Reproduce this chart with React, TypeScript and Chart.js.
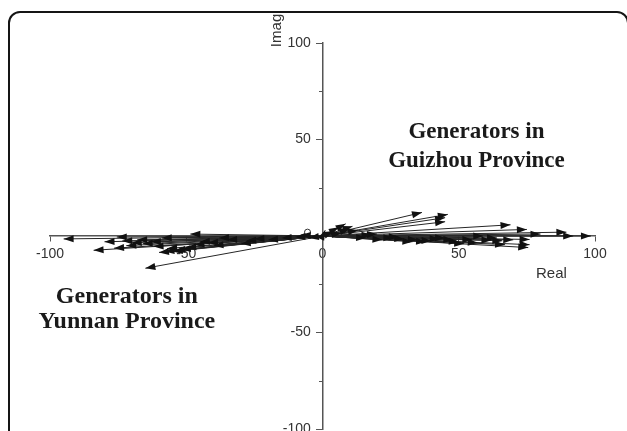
import React, { useEffect, useRef } from 'react';
import { Chart, registerables } from 'chart.js';

Chart.register(...registerables);

// Phasor end points (Real, Imag) — Guizhou generators (right side)
const guizhouReal = [36.5, 46, 45, 45, 69, 75, 80, 89.5, 92, 98.5, 59, 76, 67, 76, 75.5, 66, 8.5, 6, 11, 4, 13, 20, 26, 30, 35, 40, 45, 50, 55, 62, 16, 1, 52, 48, 38, 10, 7, 22, 28, 43, 57, 64, 70, 33, 18];
const guizhouImag = [12.2, 11.2, 9.5, 7.4, 5.8, 3.4, 1, 2, 0, 0, 0, -1.8, -4.5, -4.5, -6, -2.5, 6.3, 4.5, 5, 2.5, 3, 1, -1, -1.5, -2, -2.5, -1, -3, -2, -2.2, -1, 3, -4, -2, -3, 3.5, 1.5, -2, -0.5, -1.5, -3.5, -1, -2, -3, 0.5];
// Yunnan generators (left side)
const yunnanReal = [-95, -75.5, -84, -76.5, -73.5, -60, -65, -48.5, -66, -59, -55, -50, -45, -40, -35, -30, -25, -20, -15, -10, -70, -62, -52, -42, -80, -57, -68, -58, -54, -63, -47, -38, -72, -28, -5, -8];
const yunnanImag = [-1.5, -0.5, -7.4, -6.3, -2.6, -8.5, -16.7, 1, -4, -1, -8, -6, -3, -5, -2, -4, -1.5, -2, -1, -0.5, -3.5, -5.5, -7, -3.5, -3, -6.5, -2, -8, -7.5, -3, -4.5, -1, -5, -2.5, -1, 0.5];
// small open-circle marker near the origin
const markerReal = [-5.5];
const markerImag = [2];

const xTickStep = 50;
const yTickLabels = [100, 50, -50, -100];
const yMinorTicks = [75, 25, -25, -75];
const xTitle = 'Real';
const yTitle = 'Imag';
const guizhouText = ['Generators in', 'Guizhou Province'];
const yunnanText = ['Generators in', 'Yunnan Province'];

const AXIS_COLOR = '#555';
const TEXT_COLOR = '#333';

const arrowPlugin = {
  id: 'arrowHeads',
  afterDatasetsDraw(chart: any) {
    const ctx = chart.ctx;
    ctx.save();
    chart.data.datasets.forEach((ds: any, i: number) => {
      if (!ds.isArrow) return;
      const meta = chart.getDatasetMeta(i);
      const p0 = meta.data[0];
      const p1 = meta.data[1];
      const ang = Math.atan2(p1.y - p0.y, p1.x - p0.x);
      const L = 10;
      const W = 3.5;
      const c = Math.cos(ang);
      const s = Math.sin(ang);
      ctx.fillStyle = '#111';
      ctx.beginPath();
      ctx.moveTo(p1.x, p1.y);
      ctx.lineTo(p1.x - L * c + W * s, p1.y - L * s - W * c);
      ctx.lineTo(p1.x - L * c - W * s, p1.y - L * s + W * c);
      ctx.closePath();
      ctx.fill();
    });
    ctx.restore();
  },
};

const textPlugin = {
  id: 'extraText',
  afterDraw(chart: any) {
    const ctx = chart.ctx;
    const xs = chart.scales.x;
    const ys = chart.scales.y;
    const x0 = xs.getPixelForValue(0);
    ctx.save();
    // minor ticks on Imag axis
    ctx.strokeStyle = AXIS_COLOR;
    ctx.lineWidth = 1;
    yMinorTicks.forEach((v) => {
      const py = Math.round(ys.getPixelForValue(v)) + 0.5;
      ctx.beginPath();
      ctx.moveTo(x0 - 0.5, py);
      ctx.lineTo(x0 - 3.5, py);
      ctx.stroke();
    });
    // axis titles
    ctx.fillStyle = TEXT_COLOR;
    ctx.font = '15px "Liberation Sans", Arial, sans-serif';
    ctx.textAlign = 'center';
    ctx.textBaseline = 'middle';
    ctx.fillText(xTitle, xs.getPixelForValue(84), ys.getPixelForValue(-19.5));
    ctx.save();
    ctx.translate(xs.getPixelForValue(-16.7), ys.getPixelForValue(106.5));
    ctx.rotate(-Math.PI / 2);
    ctx.fillText(yTitle, 0, 0);
    ctx.restore();
    // annotations
    ctx.fillStyle = '#1a1a1a';
    ctx.textBaseline = 'alphabetic';
    ctx.font = 'bold 23px "Liberation Serif", "Times New Roman", serif';
    const gx = xs.getPixelForValue(56.5);
    const gy = ys.getPixelForValue(51);
    ctx.fillText(guizhouText[0], gx, gy);
    ctx.fillText(guizhouText[1], gx, gy + 29);
    ctx.font = 'bold 24px "Liberation Serif", "Times New Roman", serif';
    const yx = xs.getPixelForValue(-71.8);
    const yy = ys.getPixelForValue(-34.5);
    ctx.fillText(yunnanText[0], yx, yy);
    ctx.fillText(yunnanText[1], yx, yy + 25);
    ctx.restore();
  },
};

export default function App() {
  const canvasRef = useRef<HTMLCanvasElement>(null);

  useEffect(() => {
    const canvas = canvasRef.current;
    if (!canvas) return;
    const vec = (re: number[], im: number[]) =>
      re.map((r, i) => ({
        data: [
          { x: 0, y: 0 },
          { x: r, y: im[i] },
        ],
        showLine: true,
        isArrow: true,
        borderColor: '#262626',
        borderWidth: 1,
        pointRadius: 0,
        pointHoverRadius: 0,
      }));
    const datasets: any[] = [
      ...vec(guizhouReal, guizhouImag),
      ...vec(yunnanReal, yunnanImag),
      {
        data: markerReal.map((r, i) => ({ x: r, y: markerImag[i] })),
        showLine: false,
        pointRadius: 3,
        pointBorderWidth: 1,
        pointBorderColor: '#333',
        pointBackgroundColor: 'rgba(255,255,255,0)',
      },
    ];

    const tickFont = { family: '"Liberation Sans", Arial, sans-serif', size: 14 };

    const chart = new Chart(canvas, {
      type: 'scatter',
      data: { datasets },
      options: {
        animation: false,
        responsive: false,
        devicePixelRatio: 1,
        layout: { padding: { left: 50, right: 32, top: 43, bottom: 0 } },
        plugins: { legend: { display: false }, tooltip: { enabled: false } },
        scales: {
          x: {
            type: 'linear',
            min: -100,
            max: 100,
            position: { y: 0 } as any,
            afterFit: (s: any) => {
              s.height = 0;
              s.paddingLeft = 0;
              s.paddingRight = 0;
              s.paddingTop = 0;
              s.paddingBottom = 0;
            },
            ticks: {
              stepSize: xTickStep,
              autoSkip: false,
              maxRotation: 0,
              padding: 5,
              color: TEXT_COLOR,
              font: tickFont,
            },
            grid: { drawOnChartArea: false, drawTicks: true, tickLength: 5, tickColor: AXIS_COLOR, color: AXIS_COLOR },
            border: { display: true, color: AXIS_COLOR, width: 1.5 },
          },
          y: {
            type: 'linear',
            min: -100,
            max: 100,
            position: { x: 0 } as any,
            afterFit: (s: any) => {
              s.width = 0;
              s.paddingLeft = 0;
              s.paddingRight = 0;
              s.paddingTop = 0;
              s.paddingBottom = 0;
            },
            ticks: {
              stepSize: 50,
              autoSkip: false,
              color: TEXT_COLOR,
              font: tickFont,
              callback: (v: any) => (yTickLabels.includes(Number(v)) ? String(v) + '   ' : ''),
            },
            grid: {
              drawOnChartArea: false,
              drawTicks: true,
              tickLength: 6,
              tickColor: (c: any) => (c.tick && yTickLabels.includes(c.tick.value) ? AXIS_COLOR : 'rgba(0,0,0,0)'),
              color: AXIS_COLOR,
            },
            border: { display: true, color: AXIS_COLOR, width: 1.5 },
          },
        },
      },
      plugins: [arrowPlugin, textPlugin],
    });
    return () => chart.destroy();
  }, []);

  return (
    <div
      style={{
        position: 'fixed',
        left: 0,
        top: 0,
        width: 627,
        height: 431,
        overflow: 'hidden',
        background: '#fff',
      }}
    >
      <div
        style={{
          position: 'absolute',
          left: 8,
          top: 11,
          width: 621,
          height: 520,
          border: '2px solid #151515',
          borderRadius: 12,
          boxSizing: 'border-box',
        }}
      />
      <canvas ref={canvasRef} width={627} height={434} style={{ position: 'absolute', left: 0, top: 0, width: 627, height: 434 }} />
    </div>
  );
}
